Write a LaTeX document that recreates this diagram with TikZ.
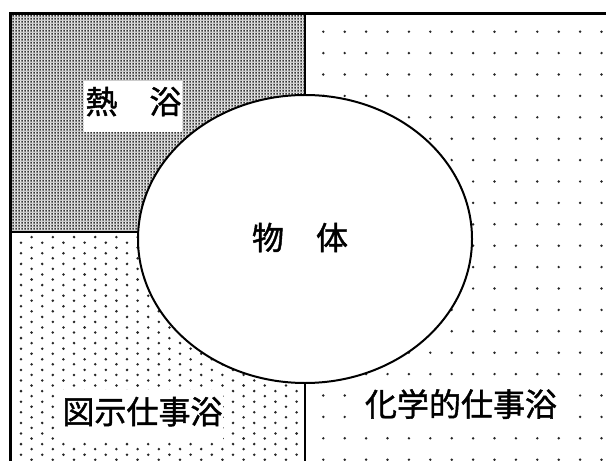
\documentclass[tikz,border=0pt]{standalone}
\usepackage{fontspec}
\newfontfamily\jp[FakeBold=1.3]{Noto Sans CJK JP}
\usetikzlibrary{shapes.geometric,patterns.meta}
\tikzdeclarepattern{
  name=densedots,
  type=colored,
  bottom left={(0bp,0bp)},
  top right={(3bp,3bp)},
  tile size={(3bp,3bp)},
  code={\fill[black] (1.5bp,1.5bp) circle (1.05bp);}
}
\tikzset{
  frameline/.style={line width=2.2bp, line cap=rect},
  divline/.style={line width=2bp},
  bodyshape/.style={ellipse, draw, line width=2bp, fill=white, minimum width=334bp, minimum height=288bp, inner sep=0pt},
  txt/.style={font=\jp\fontsize{32bp}{38bp}\selectfont, anchor=base, inner sep=0pt},
  labelbox/.style={fill=white},
  sdot/.style={fill=black!85},
}
\begin{document}
\begin{tikzpicture}[x=1bp,y=-1bp]
\useasboundingbox (0,0) rectangle (606,461);
\fill[white] (0,0) rectangle (606,461);
% dense region (heat bath)
\fill[black!20] (10.5,13.5) rectangle (305.3,232);
\fill[pattern=densedots] (10.5,13.5) rectangle (305.3,232);
% bottom-left region
\begin{scope}
\clip (10.5,232) rectangle (305.3,461);
\foreach \i in {0,...,27}{
  \pgfmathsetmacro\xx{21+10.6*\i}
  \pgfmathsetmacro\yo{mod(\i,2)*(-5.6)}
  \foreach \j in {0,...,21}{
    \fill[sdot] (\xx, 242.7+\yo+10.6*\j) circle (1.4bp);
  }
}
\end{scope}
% right region
\begin{scope}
\clip (305.3,13.5) rectangle (606,461);
\foreach \i in {0,...,13}{
  \foreach \j in {0,...,20}{
    \fill[sdot] (323.3+21.4*\i, 31.7+21.4*\j) circle (1.35bp);
  }
}
\end{scope}
% dividers
\draw[divline] (305.3,13.5) -- (305.3,461);
\draw[divline] (10.5,232) -- (200,232);
% frame
\draw[frameline] (10.5,461) -- (10.5,13.5) -- (606,13.5);
% body
\node[bodyshape] (body) at (305,239) {};
% label boxes
\fill[labelbox] (84,81) rectangle (182,132);
\fill[labelbox] (62,390) rectangle (223,442);
\fill[labelbox] (357,383) rectangle (570,427);
% texts
\node[txt] (heat) at (133.5,113.7) {熱　浴};
\node[txt] (bodytxt) at (300,249.7) {物　体};
\node[txt] (graphic) at (142.5,423.7) {図示仕事浴};
\node[txt] (chem) at (461,416.2) {化学的仕事浴};
\end{tikzpicture}
\end{document}
